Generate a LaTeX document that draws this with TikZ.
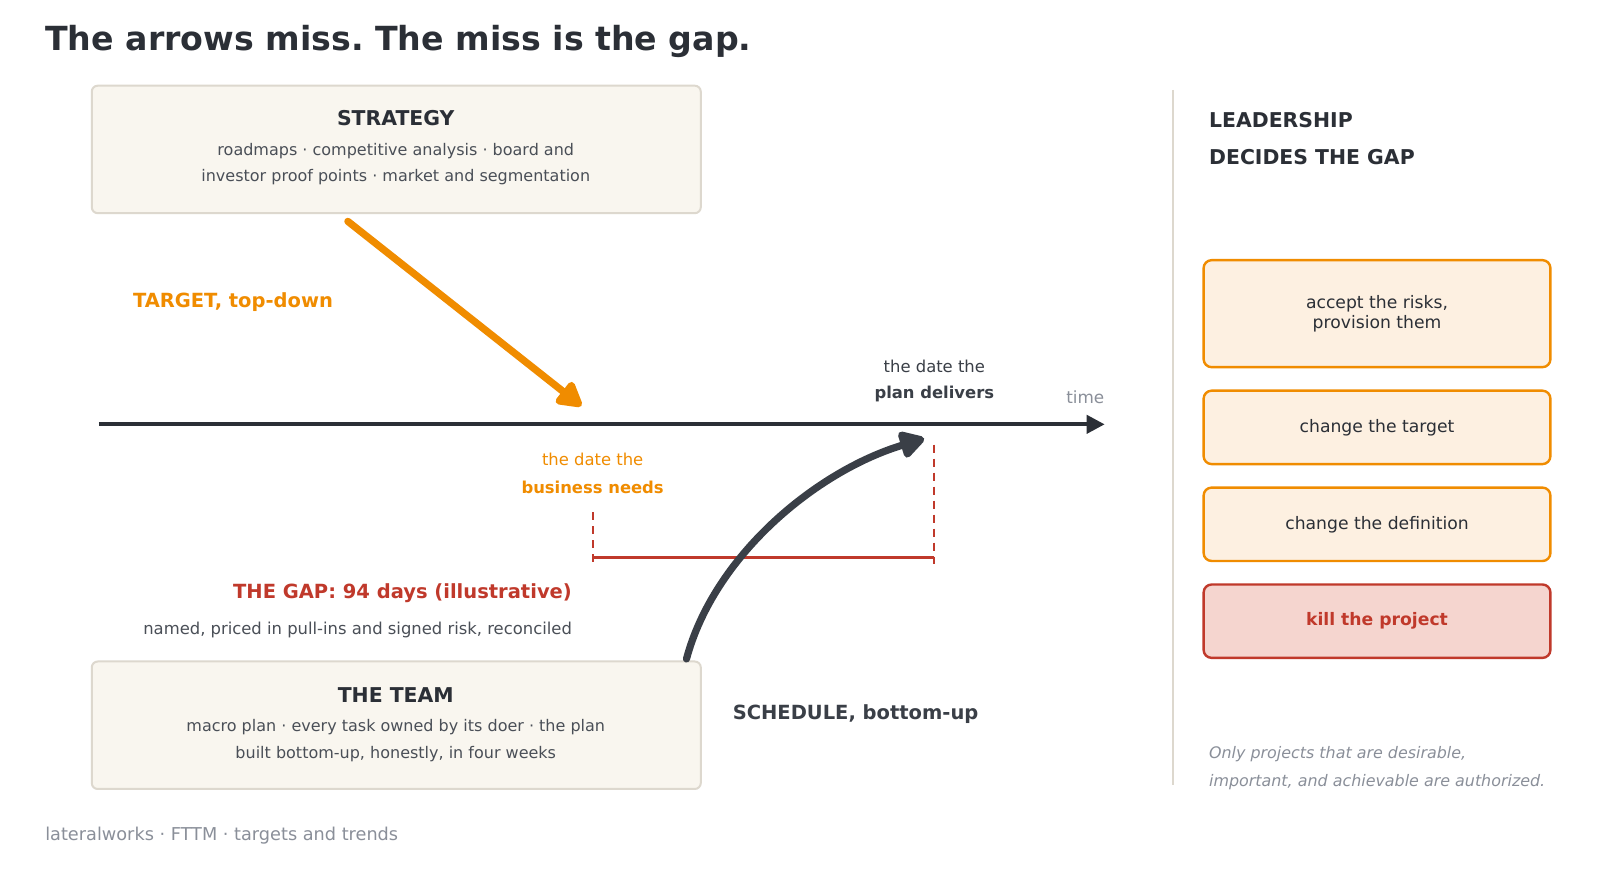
\documentclass[tikz,border=0pt]{standalone}
\usepackage{fontspec}
\setmainfont{DejaVu Sans}
\usetikzlibrary{arrows.meta}
\definecolor{ink}{HTML}{2B2F36}
\definecolor{bodytxt}{HTML}{4A4F57}
\definecolor{muted}{HTML}{8A8F99}
\definecolor{orng}{HTML}{F08C00}
\definecolor{gapred}{HTML}{C0392B}
\definecolor{cream}{HTML}{F9F6EF}
\definecolor{creamline}{HTML}{DDD8CE}
\definecolor{peach}{HTML}{FDF0E1}
\definecolor{pinkfill}{HTML}{F5D5CF}
\definecolor{slate}{HTML}{3A3F47}
\tikzset{
  panel/.style={draw=creamline, line width=1pt, fill=cream, rounded corners=3pt,
    minimum width=304.5pt, minimum height=63.75pt, inner sep=0pt},
  paneltitle/.style={text=ink, font=\bfseries\fontsize{10.2}{12}\selectfont, inner sep=0pt},
  panelbody/.style={text=bodytxt, font=\fontsize{8}{13.3}\selectfont, align=center, inner sep=0pt},
  choice/.style={draw=orng, line width=1.2pt, fill=peach, rounded corners=4pt,
    minimum width=173.4pt, inner sep=0pt, text=ink, font=\fontsize{8.6}{9.7}\selectfont, align=center},
  killbox/.style={choice, draw=gapred, fill=pinkfill, text=gapred, font=\bfseries\fontsize{8.6}{9.7}\selectfont},
  fatarrow/.style={line width=3.6pt, line cap=round, -{Triangle[length=14pt,width=15pt,round]}},
  dashline/.style={gapred, line width=1pt, dash pattern=on 4pt off 3pt},
  lbl/.style={inner sep=0pt},
}
\frenchspacing
\begin{document}
\frenchspacing
\begin{tikzpicture}[x=0.51pt,y=-0.51pt]
\useasboundingbox (0,0) rectangle (1568.6,852.9);
\fill[white] (0,0) rectangle (1568.6,852.9);

% title
\node[lbl, anchor=west, text=ink, font=\bfseries\fontsize{16.6}{19}\selectfont] (title) at (44,41) {The arrows miss. The miss is the gap.};

% strategy panel
\node[panel] (strat) at (388.5,146.5) {};
\node[lbl, paneltitle] (stratT) at (388,116) {STRATEGY};
\node[lbl, panelbody] (stratB) at (388,161) {roadmaps · competitive analysis · board and\\investor proof points · market and segmentation};

% team panel
\node[panel] (team) at (388.5,711) {};
\node[lbl, paneltitle] (teamT) at (388,681) {THE TEAM};
\node[lbl, panelbody] (teamB) at (388,726) {macro plan · every task owned by its doer · the plan\\built bottom-up, honestly, in four weeks};

% target arrow
\coordinate (tS) at (341,217);
\coordinate (tE) at (570,398);
\draw[orng, fatarrow] (tS) -- (tE);
\node[lbl, anchor=west, text=orng, font=\bfseries\fontsize{9.75}{11}\selectfont] (tgtlbl) at (130,296) {TARGET, top-down};

% timeline
\coordinate (tl0) at (97,416);
\coordinate (tl1) at (1083,416);
\draw[ink, line width=2pt, -{Triangle[length=9pt,width=9pt]}] (tl0) -- (tl1);
\node[lbl, text=muted, font=\fontsize{8.4}{10}\selectfont] (timelbl) at (1064,389) {time};

% plan delivers
\node[lbl, text=slate, font=\fontsize{8.2}{10}\selectfont] (planA) at (916,359) {the date the};
\node[lbl, text=slate, font=\bfseries\fontsize{8.2}{10}\selectfont] (planB) at (916,386) {plan delivers};

% business needs
\node[lbl, text=orng, font=\fontsize{8.2}{10}\selectfont] (busA) at (581,450) {the date the};
\node[lbl, text=orng, font=\bfseries\fontsize{8.2}{10}\selectfont] (busB) at (581,478) {business needs};

% gap markers
\coordinate (g1a) at (581,502);
\coordinate (g1b) at (581,553);
\coordinate (g2a) at (916,436);
\coordinate (g2b) at (916,553);
\coordinate (gh1) at (581,547);
\coordinate (gh2) at (916,547);
\draw[dashline] (g1a) -- (g1b);
\draw[dashline] (g2a) -- (g2b);
\draw[gapred, line width=1.5pt] (gh1) -- (gh2);

% schedule arrow
\coordinate (sS) at (673,646);
\coordinate (sE) at (906,430);
\draw[slate, fatarrow] (sS) .. controls (700,545) and (800,462) .. (sE);
\node[lbl, anchor=west, text=slate, font=\bfseries\fontsize{9.75}{11}\selectfont] (schedlbl) at (718,700) {SCHEDULE, bottom-up};

% gap labels
\node[lbl, anchor=east, text=gapred, font=\bfseries\fontsize{9.75}{11}\selectfont] (gaplbl) at (561,582) {THE GAP: 94 days (illustrative)};
\node[lbl, anchor=east, text=bodytxt, font=\fontsize{8.2}{10}\selectfont] (gapsub) at (561,618) {named, priced in pull-ins and signed risk, reconciled};

% separator
\coordinate (sep0) at (1150,88);
\coordinate (sep1) at (1150,770);
\draw[creamline, line width=1.2pt] (sep0) -- (sep1);

% leadership
\node[lbl, anchor=west, text=ink, font=\bfseries\fontsize{10.2}{12}\selectfont] (lead1) at (1185,118) {LEADERSHIP};
\node[lbl, anchor=west, text=ink, font=\bfseries\fontsize{10.2}{12}\selectfont] (lead2) at (1185,154) {DECIDES THE GAP};

\node[choice, minimum height=53.5pt] (c1) at (1350,307.5) {accept the risks,\\provision them};
\node[choice, minimum height=36.7pt] (c2) at (1350,419) {change the target};
\node[choice, minimum height=36.7pt] (c3) at (1350,514) {change the definition};
\node[killbox, minimum height=36.7pt] (c4) at (1350,609) {kill the project};

\node[lbl, anchor=west, text=muted, font=\itshape\fontsize{7.95}{9}\selectfont] (note1) at (1185,739) {Only projects that are desirable,};
\node[lbl, anchor=west, text=muted, font=\itshape\fontsize{7.95}{9}\selectfont] (note2) at (1185,767) {important, and achievable are authorized.};

% footer
\node[lbl, anchor=west, text=muted, font=\fontsize{8.85}{10}\selectfont] (foot) at (44,819) {lateralworks · FTTM · targets and trends};
\end{tikzpicture}
\end{document}
